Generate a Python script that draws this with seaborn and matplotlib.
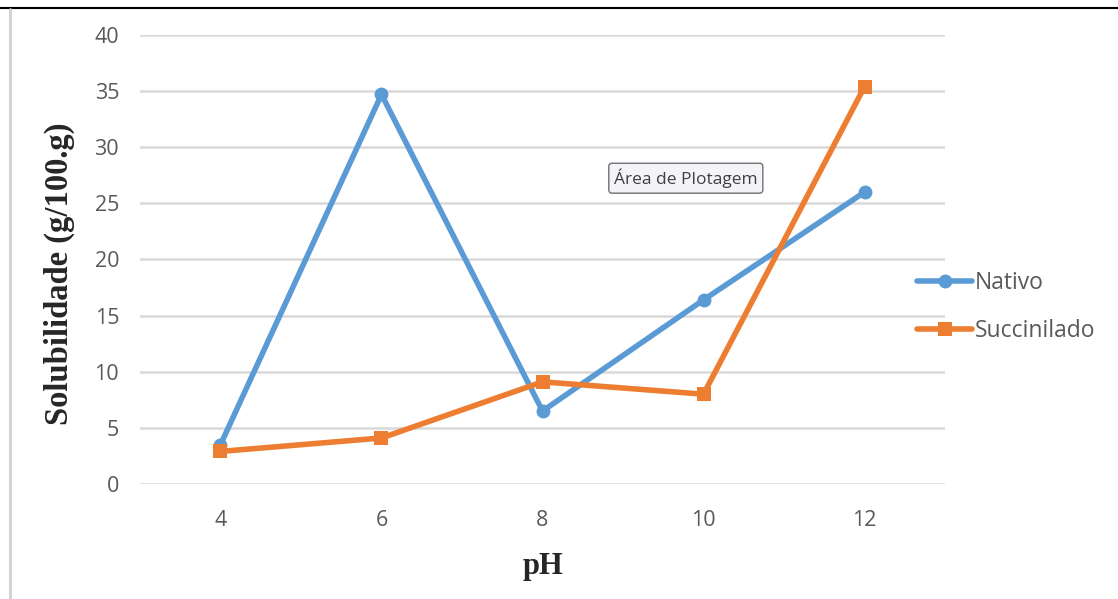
import numpy as np
import matplotlib
matplotlib.use("Agg")
import matplotlib.pyplot as plt
import seaborn as sns
import pandas as pd
from matplotlib.lines import Line2D

# data
ph = [4, 6, 8, 10, 12]
nativo = [3.5, 34.7, 6.5, 16.4, 26.0]
succinilado = [2.9, 4.1, 9.1, 8.0, 35.4]
series_names = ["Nativo", "Succinilado"]
colors = ["#5B9BD5", "#ED7D31"]

df = pd.DataFrame({
    "pH": ph * 2,
    "sol": nativo + succinilado,
    "serie": [series_names[0]] * len(ph) + [series_names[1]] * len(ph),
})

sns.set_style("white")
plt.rcParams['font.family'] = ['Open Sans', 'DejaVu Sans']

fig = plt.figure(figsize=(11.18, 5.99), dpi=100)
ax = fig.add_axes([0.1252, 0.192, 0.7201, 0.7496])

sns.lineplot(data=df, x="pH", y="sol", hue="serie", style="serie",
             palette=colors, markers=["o", "s"], dashes=False,
             linewidth=4, markersize=10, markeredgewidth=0, ax=ax, legend=False)

ax.set_xlim(3, 13)
ax.set_ylim(0, 40)
ax.set_xticks(ph)
ax.set_yticks(np.arange(0, 41, 5))
ax.grid(axis="y", color="#D9D9D9", linewidth=1.8)
ax.set_axisbelow(True)
for s in ax.spines.values():
    s.set_visible(False)
ax.tick_params(axis="both", length=0, labelsize=15.5, labelcolor="#595959")
ax.tick_params(axis="y", pad=15)
ax.tick_params(axis="x", pad=19)

ax.set_xlabel("pH", family="Liberation Serif", fontweight="bold",
              fontsize=22, labelpad=15)
ax.set_ylabel("Solubilidade (g/100.g)", family="Liberation Serif",
              fontweight="bold", fontsize=23.5)
ax.yaxis.set_label_coords(-0.081, 0.468)

handles = [Line2D([], [], color=c, linewidth=4, marker=m, markersize=10,
                  markeredgewidth=0) for c, m in zip(colors, ["o", "s"])]
leg = ax.legend(handles, series_names, loc="center left",
                bbox_to_anchor=(0.94, 0.395), frameon=False, fontsize=16.5,
                handlelength=2.4, handletextpad=0.1, labelspacing=1.05)
for t in leg.get_texts():
    t.set_color("#595959")

ax.text(0.678, 0.681, "Área de Plotagem", transform=ax.transAxes,
        fontsize=12.5, color="#404040", va="center", ha="center",
        bbox=dict(boxstyle="round,pad=0.3,rounding_size=0.2",
                  facecolor="#F4F4F8", edgecolor="#707070", linewidth=1))

# outer frame of the screenshot
fig.add_artist(Line2D([0, 1], [0.987, 0.987], color="black", linewidth=1.5,
                      transform=fig.transFigure))
fig.add_artist(Line2D([0.0085, 0.0085], [0, 0.985], color="#D0D0D0",
                      linewidth=2, transform=fig.transFigure))

fig.savefig("out.png", dpi=100)
